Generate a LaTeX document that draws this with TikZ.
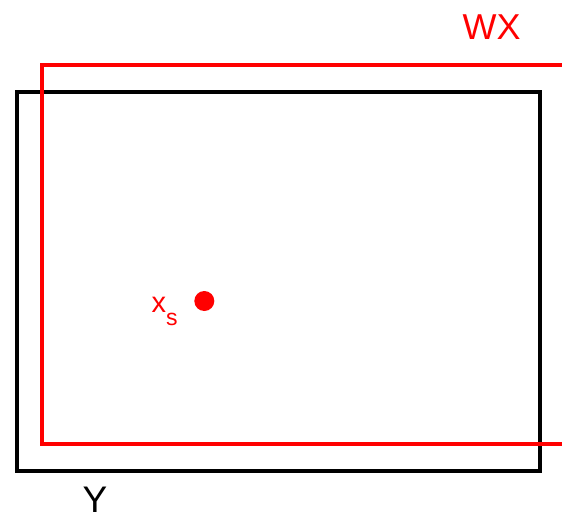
\documentclass[tikz,border=0pt]{standalone}
\usepackage{fontspec}
\setmainfont{Liberation Sans}
\begin{document}
\begin{tikzpicture}[x=1pt,y=-1pt,
  boxline/.style={line width=4pt},
  redline/.style={line width=4pt,draw=red},
  lbl/.style={inner sep=0pt,anchor=base west,text depth=0pt}]
\useasboundingbox (0,0) rectangle (562,515);
\coordinate (ytl) at (16.5,91.5);
\coordinate (ybr) at (539.5,470.5);
\draw[boxline] (ytl) rectangle (ybr);
\coordinate (wtr) at (564,65);
\coordinate (wbr) at (564,444);
\coordinate (wtl) at (41.5,65);
\coordinate (wbl) at (41.5,444);
\draw[redline] (wtr) -- (wtl) -- (wbl) -- (wbr);
\node[lbl,text=red] (wx) at (462.5,39) {\fontsize{36}{36}\selectfont WX};
\node[lbl] (y) at (82.5,512) {\fontsize{37}{37}\selectfont Y};
\fill[red] (204.3,301) circle (10);
\node[lbl,text=red] (xs) at (151.5,312) {\fontsize{29}{29}\selectfont x\raisebox{-13pt}{\fontsize{23}{23}\selectfont s}};
\end{tikzpicture}
\end{document}
